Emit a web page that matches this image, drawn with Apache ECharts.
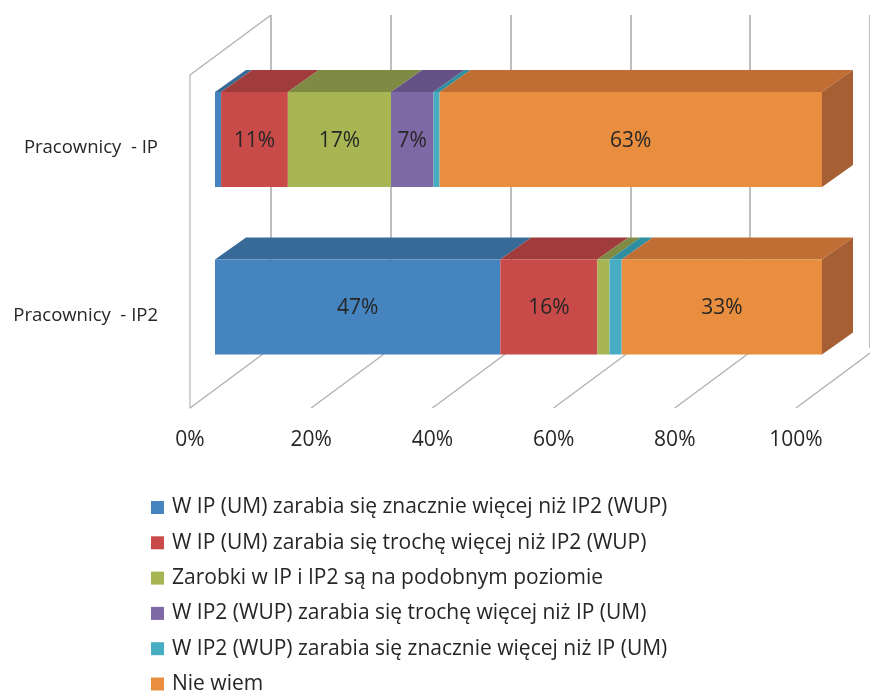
<!DOCTYPE html>
<html>
<head>
<meta charset="utf-8">
<script src="https://cdn.jsdelivr.net/npm/echarts@6/dist/echarts.min.js"></script>
<style>
  html, body { margin: 0; padding: 0; background: #ffffff; }
  #chart { width: 870px; height: 691px; }
</style>
</head>
<body>
<div id="chart"></div>
<script>
// Categories (top to bottom) and the six answer groups, in stack order
const categories = ['Pracownicy  - IP', 'Pracownicy  - IP2'];
const seriesNames = [
  'W IP (UM) zarabia się znacznie więcej niż IP2 (WUP)',
  'W IP (UM) zarabia się trochę więcej niż IP2 (WUP)',
  'Zarobki w IP i IP2 są na podobnym poziomie',
  'W IP2 (WUP) zarabia się trochę więcej niż IP (UM)',
  'W IP2 (WUP) zarabia się znacznie więcej niż IP (UM)',
  'Nie wiem'
];
// Percent shares per category
const muchMoreIP   = [1, 47];
const bitMoreIP    = [11, 16];
const similar      = [17, 2];
const bitMoreIP2   = [7, 0];
const muchMoreIP2  = [1, 2];
const dontKnow     = [63, 33];
const percentTicks = [0, 20, 40, 60, 80, 100];

const allValues = [muchMoreIP, bitMoreIP, similar, bitMoreIP2, muchMoreIP2, dontKnow];

// Face colours for each series: front, top, right side
const faces = [
  { front: '#4584be', top: '#386a97', side: '#2f5a80' },
  { front: '#c84b4a', top: '#a03c3c', side: '#8a3333' },
  { front: '#a7b552', top: '#7f8b44', side: '#6d783a' },
  { front: '#7e68a5', top: '#665186', side: '#564572' },
  { front: '#46adc3', top: '#2f8e9f', side: '#287a88' },
  { front: '#e98e3e', top: '#c06e34', side: '#a65f32' }
];

const FONT = '"Open Sans", "Noto Sans", sans-serif';
const TEXT = '#262626';
const DEPTH_BAR = [31, -22];    // depth of a bar block
const DEPTH_FLOOR = [81, -60];  // depth of floor / side wall
const BAR_RATIO = 0.567;        // bar thickness as share of category band

// Build stacked [start, end, categoryIndex, value] items per series
const starts = categories.map(() => 0);
const stackedData = allValues.map(vals => vals.map((v, c) => {
  const item = [starts[c], starts[c] + v, c, v];
  starts[c] += v;
  return item;
}));

function renderBlock(face) {
  return function (params, api) {
    const s = api.value(0), e = api.value(1), c = api.value(2), v = api.value(3);
    if (!(v > 0)) return null;
    const p0 = api.coord([s, c]);
    const p1 = api.coord([e, c]);
    const band = api.size([0, 1])[1];
    const h = band * BAR_RATIO;
    const yT = p0[1] - h / 2, yB = p0[1] + h / 2;
    const x1 = p0[0], x2 = p1[0];
    const dx = DEPTH_BAR[0], dy = DEPTH_BAR[1];
    const children = [
      { type: 'polygon', shape: { points: [[x1, yT], [x2, yT], [x2 + dx, yT + dy], [x1 + dx, yT + dy]] },
        style: { fill: face.top } },
      { type: 'rect', shape: { x: x1, y: yT, width: x2 - x1, height: h },
        style: { fill: face.front } }
    ];
    if (e >= 99.999) {
      children.push({ type: 'polygon',
        shape: { points: [[x2, yT], [x2 + dx, yT + dy], [x2 + dx, yB + dy], [x2, yB]] },
        style: { fill: face.side } });
    }
    if (v >= 5) {
      children.push({ type: 'text',
        style: { x: (x1 + x2) / 2, y: p0[1] + 1.5, text: v + '%', align: 'center', verticalAlign: 'middle',
                 fill: TEXT, font: '21px ' + FONT } });
    }
    return { type: 'group', children: children };
  };
}

const barSeries = seriesNames.map((name, i) => ({
  name: name,
  type: 'custom',
  xAxisIndex: 0,
  yAxisIndex: 0,
  renderItem: renderBlock(faces[i]),
  itemStyle: { color: faces[i].front },
  encode: { x: [0, 1], y: 2 },
  data: stackedData[i],
  z: 5,
  silent: true
}));

// Floor lines running from the front axis back to the wall, plus the top edge of the side wall
const wallSeries = {
  type: 'custom',
  xAxisIndex: 1,
  yAxisIndex: 1,
  silent: true,
  z: 1,
  data: percentTicks.map(t => [t, 0]),
  renderItem: function (params, api) {
    const t = api.value(0);
    const p = api.coord([t, 0]);
    const children = [{
      type: 'line',
      shape: { x1: p[0], y1: p[1], x2: p[0] + DEPTH_FLOOR[0], y2: p[1] + DEPTH_FLOOR[1] },
      style: { stroke: '#b4b4b4', lineWidth: 1.5 }
    }];
    if (t === 0) {
      const q = api.coord([0, 1]);
      children.push({
        type: 'line',
        shape: { x1: q[0], y1: q[1], x2: q[0] + DEPTH_FLOOR[0], y2: q[1] + DEPTH_FLOOR[1] },
        style: { stroke: '#b4b4b4', lineWidth: 1.5 }
      });
    }
    return { type: 'group', children: children };
  }
};

const chart = echarts.init(document.getElementById('chart'), null, { renderer: 'canvas' });
chart.setOption({
  backgroundColor: '#ffffff',
  animation: false,
  grid: [
    // front faces of the bars
    { left: 215, width: 607, top: 55.75, height: 335 },
    // floor front edge and side wall
    { left: 190, width: 606, top: 75, height: 333 },
    // back wall
    { left: 271, width: 606, top: 15, height: 333 }
  ],
  xAxis: [
    { gridIndex: 0, type: 'value', min: 0, max: 100, show: false },
    { gridIndex: 1, type: 'value', min: 0, max: 100, interval: 20,
      axisLine: { show: false }, axisTick: { show: false }, splitLine: { show: false },
      axisLabel: { formatter: '{value}%', margin: 22, fontSize: 21, color: TEXT, fontFamily: FONT } },
    { gridIndex: 2, type: 'value', min: 0, max: 100, interval: 20,
      axisLine: { show: false }, axisTick: { show: false }, axisLabel: { show: false },
      splitLine: { show: true, showMinLine: true, showMaxLine: true,
                   lineStyle: { color: '#a8a8a8', width: 1.5, type: 'solid' } } }
  ],
  yAxis: [
    { gridIndex: 0, type: 'category', data: categories, inverse: true,
      axisLine: { show: false }, axisTick: { show: false }, splitLine: { show: false },
      axisLabel: { margin: 57, fontSize: 18.5, color: TEXT, fontFamily: FONT,
                   verticalAlign: 'top', lineHeight: 17 } },
    { gridIndex: 1, type: 'value', min: 0, max: 1,
      axisLine: { show: true, lineStyle: { color: '#c4c4c4', width: 1.5 } },
      axisTick: { show: false }, axisLabel: { show: false }, splitLine: { show: false } },
    { gridIndex: 2, type: 'value', min: 0, max: 1, show: false, splitLine: { show: false } }
  ],
  legend: {
    orient: 'vertical',
    left: 151,
    bottom: -4,
    padding: 0,
    itemWidth: 13,
    itemHeight: 13,
    itemGap: 13.3,
    icon: 'rect',
    data: seriesNames,
    selectedMode: false,
    textStyle: { fontSize: 21, color: TEXT, fontFamily: FONT, lineHeight: 22, padding: [0, 0, 0, 3] }
  },
  series: [wallSeries].concat(barSeries)
});
</script>
</body>
</html>
